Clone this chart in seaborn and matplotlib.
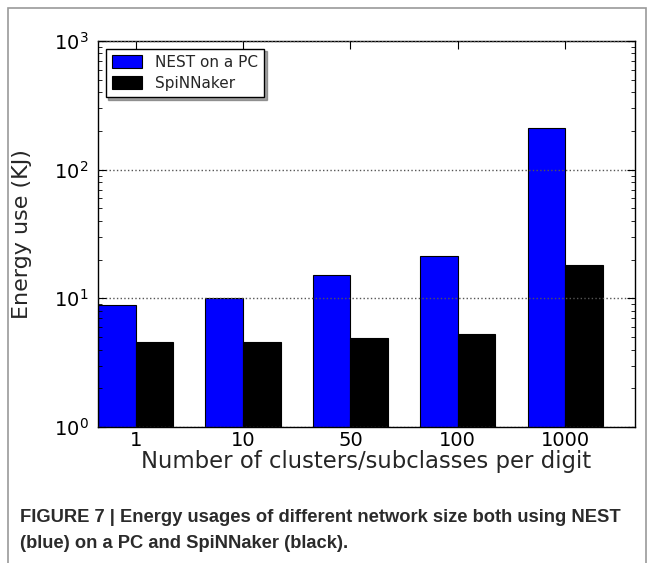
import matplotlib
matplotlib.use("Agg")
import matplotlib.pyplot as plt
import matplotlib.patches as mpatches
from matplotlib import font_manager
import seaborn as sns
import pandas as pd

# values (log scale)
sizes = ["1", "10", "50", "100", "1000"]
nest_pc = [8.8, 10.0, 15.3, 21.5, 210.0]
spinnaker = [4.55, 4.55, 4.9, 5.3, 18.0]
series_names = ["NEST on a PC", "SpiNNaker"]
series_colors = ["#0000ff", "#000000"]

df = pd.DataFrame({
    "size": sizes * 2,
    "energy": nest_pc + spinnaker,
    "system": [series_names[0]] * len(sizes) + [series_names[1]] * len(sizes),
})

sns.set_style("white")
plt.rcParams["font.family"] = ["DejaVu Sans"]
plt.rcParams["mathtext.fontset"] = "dejavusans"

W, H = 654, 563
fig = plt.figure(figsize=(W / 100, H / 100), dpi=100)
ax = fig.add_axes([98 / W, 1 - 427 / H, (635 - 98) / W, (427 - 41) / H])

sns.barplot(data=df, x="size", y="energy", hue="system", order=sizes,
            hue_order=series_names, palette=series_colors, width=0.7,
            saturation=1, edgecolor="black", linewidth=0.8,
            ax=ax, legend=False)
ax.set_yscale("log")

ax.set_ylim(1, 1000)
ax.set_xlim(-0.35, 4.65)
ax.yaxis.grid(True, which="major", linestyle=":", color="#555555", linewidth=1)
ax.xaxis.grid(False)
ax.set_axisbelow(False)
for s in ax.spines.values():
    s.set_color("black")
    s.set_linewidth(1)

ax.tick_params(axis="both", which="both", direction="in", top=True, right=True,
               bottom=True, left=True, colors="black")
ax.tick_params(axis="both", which="major", length=6, labelsize=14)
ax.tick_params(axis="x", which="major", pad=3)
ax.tick_params(axis="y", which="major", pad=7)
ax.tick_params(axis="y", which="minor", length=3)
ax.tick_params(axis="x", which="minor", length=0)

ax.set_xlabel("Number of clusters/subclasses per digit", fontsize=16.4, labelpad=0)
ax.set_ylabel("Energy use (KJ)", fontsize=16)
ax.yaxis.set_label_coords((32 - 98) / 537, 0.5)

handles = [mpatches.Patch(facecolor=c, edgecolor="black", linewidth=0.8) for c in series_colors]
leg = ax.legend(handles, series_names, loc="upper left", fontsize=11, shadow=True,
                fancybox=False, frameon=True, borderaxespad=0.5, handlelength=2.0,
                handleheight=0.9, handletextpad=0.85, labelspacing=0.4)
leg.get_frame().set_edgecolor("black")
leg.get_frame().set_linewidth(1)

# page frame around the figure
frame = mpatches.Rectangle((7.5 / W, -0.1), (645.5 - 7.5) / W, 1.1 - 8.5 / H,
                           transform=fig.transFigure, fill=False,
                           edgecolor="#9a9a9a", linewidth=1.2, clip_on=False)
fig.patches.append(frame)

names = {f.name for f in font_manager.fontManager.ttflist}
cap_font = ["Liberation Sans Narrow"] if "Liberation Sans Narrow" in names else ["Liberation Sans"]
cap_font += ["DejaVu Sans"]
fig.text(20 / W, 1 - 518 / H,
         "FIGURE 7 | Energy usages of different network size both using NEST",
         fontsize=13.2, fontweight="bold", color="#2b2b2b", family=cap_font, va="center")
fig.text(20 / W, 1 - 544 / H, "(blue) on a PC and SpiNNaker (black).",
         fontsize=13.2, fontweight="bold", color="#2b2b2b", family=cap_font, va="center")

fig.savefig("out.png", dpi=100)
